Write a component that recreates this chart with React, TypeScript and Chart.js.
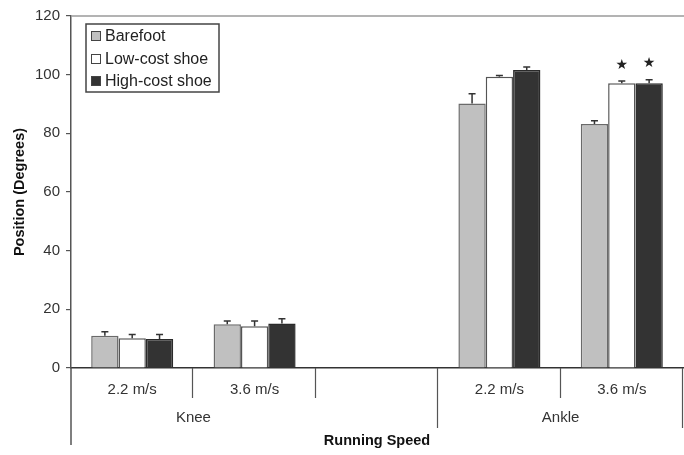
import React, { useEffect, useRef } from "react";
import { Chart, registerables } from "chart.js";

Chart.register(...registerables);

const categories = ["2.2 m/s", "3.6 m/s", "", "2.2 m/s", "3.6 m/s"];
const groups = ["Knee", "Ankle"];
const seriesNames = ["Barefoot", "Low-cost shoe", "High-cost shoe"];
const barefoot = [11.0, 14.9, null, 90.2, 83.2];
const lowCost = [10.1, 14.2, null, 99.3, 97.1];
const highCost = [9.9, 15.2, null, 101.6, 97.1];
const barefootErr = [1.4, 1.1, null, 3.3, 1.1];
const lowCostErr = [1.3, 1.8, null, 0.4, 0.7];
const highCostErr = [1.5, 1.6, null, 1.0, 1.2];
const lowCostStar = [false, false, false, false, true];
const highCostStar = [false, false, false, false, true];
const yTicks = [0, 20, 40, 60, 80, 100, 120];

const FONT = "'Liberation Sans', Arial, sans-serif";

const fills = ["#c0c0c0", "#ffffff", "#333333"];
const borders = ["#6a6a6a", "#555555", "#2a2a2a"];

const extrasPlugin = {
  id: "extras",
  afterDatasetsDraw(chart: any) {
    const ctx = chart.ctx;
    const ys = chart.scales.y;
    const errs = [barefootErr, lowCostErr, highCostErr];
    const stars = [null, lowCostStar, highCostStar];
    ctx.save();
    chart.data.datasets.forEach((ds: any, di: number) => {
      const meta = chart.getDatasetMeta(di);
      meta.data.forEach((el: any, i: number) => {
        const v = ds.data[i];
        const e = errs[di][i];
        if (v == null || e == null) return;
        const yTop = ys.getPixelForValue(v + e);
        ctx.strokeStyle = "#333";
        ctx.lineWidth = 1.5;
        ctx.beginPath();
        ctx.moveTo(el.x, el.y);
        ctx.lineTo(el.x, yTop);
        ctx.moveTo(el.x - 3.5, yTop);
        ctx.lineTo(el.x + 3.5, yTop);
        ctx.stroke();
        const s = stars[di];
        if (s && s[i]) {
          ctx.fillStyle = "#222";
          ctx.font = "14px 'DejaVu Sans', sans-serif";
          ctx.textAlign = "center";
          ctx.textBaseline = "middle";
          ctx.fillText("\u2605", el.x, yTop - 16);
        }
      });
    });
    ctx.restore();
  },
  afterDraw(chart: any) {
    const ctx = chart.ctx;
    const area = chart.chartArea;
    const xs = chart.scales.x;
    const ys = chart.scales.y;
    ctx.save();
    ctx.strokeStyle = "#9a9a9a";
    ctx.lineWidth = 1.5;
    ctx.beginPath();
    ctx.moveTo(area.left, ys.getPixelForValue(120));
    ctx.lineTo(area.right + 2, ys.getPixelForValue(120));
    ctx.stroke();
    ctx.strokeStyle = "#555";
    ctx.lineWidth = 1.5;
    ctx.beginPath();
    ctx.moveTo(area.left, area.bottom);
    ctx.lineTo(area.left, 445);
    ctx.stroke();
    const n = categories.length;
    const slot = (area.right - area.left) / n;
    const longSep = [3, 5];
    for (let i = 1; i <= n; i++) {
      const x = Math.round(area.left + i * slot) - 0.5;
      ctx.strokeStyle = "#555";
      ctx.lineWidth = 1.2;
      ctx.beginPath();
      ctx.moveTo(x, area.bottom);
      ctx.lineTo(x, longSep.includes(i) ? 428 : 398);
      ctx.stroke();
    }
    ctx.fillStyle = "#333";
    ctx.font = "15px " + FONT;
    ctx.textAlign = "center";
    ctx.textBaseline = "middle";
    const kx = (xs.getPixelForValue(0) + xs.getPixelForValue(1)) / 2;
    const ax = (xs.getPixelForValue(3) + xs.getPixelForValue(4)) / 2;
    ctx.fillText(groups[0], kx, 418);
    ctx.fillText(groups[1], ax, 418);
    const lx = 86, ly = 24, lw = 133, lh = 68;
    ctx.fillStyle = "#fff";
    ctx.fillRect(lx, ly, lw, lh);
    ctx.strokeStyle = "#444";
    ctx.lineWidth = 1.5;
    ctx.strokeRect(lx, ly, lw, lh);
    const rows = [36, 59, 81];
    seriesNames.forEach((name, i) => {
      const cy = rows[i];
      ctx.fillStyle = fills[i];
      ctx.fillRect(91, cy - 5, 10, 10);
      ctx.strokeStyle = "#444";
      ctx.lineWidth = 1;
      ctx.strokeRect(91.5, cy - 4.5, 9, 9);
      ctx.fillStyle = "#222";
      ctx.font = "16px " + FONT;
      ctx.textAlign = "left";
      ctx.textBaseline = "middle";
      ctx.fillText(name, 105, cy + 1);
    });
    ctx.restore();
  },
};

export default function App() {
  const ref = useRef<HTMLCanvasElement>(null);
  useEffect(() => {
    if (!ref.current) return;
    const data = [barefoot, lowCost, highCost];
    const chart = new Chart(ref.current, {
      type: "bar",
      data: {
        labels: categories,
        datasets: seriesNames.map((name, i) => ({
          label: name,
          data: data[i] as any,
          backgroundColor: fills[i],
          borderColor: borders[i],
          borderWidth: 1.5,
          categoryPercentage: 0.67,
          barPercentage: 1.0,
        })),
      },
      options: {
        responsive: false,
        animation: false,
        devicePixelRatio: 1,
        layout: { padding: { top: 16, right: 1, left: 0, bottom: 0 } },
        plugins: { legend: { display: false }, tooltip: { enabled: false } },
        scales: {
          x: {
            afterFit: (s: any) => {
              s.height = 87;
            },
            grid: { display: false, drawTicks: false },
            border: { display: true, color: "#333", width: 1.5 },
            ticks: {
              color: "#333",
              font: { family: FONT, size: 15 },
              padding: 13,
              maxRotation: 0,
              autoSkip: false,
            },
            title: {
              display: true,
              text: "Running Speed",
              color: "#111",
              font: { family: FONT, size: 14.5, weight: "bold" },
              padding: { top: 0, bottom: 5 },
            },
          },
          y: {
            min: 0,
            max: 120,
            afterFit: (s: any) => {
              s.width = 71;
            },
            afterBuildTicks: (s: any) => {
              s.ticks = yTicks.map((v) => ({ value: v }));
            },
            grid: {
              display: true,
              drawOnChartArea: false,
              drawTicks: true,
              tickLength: 5,
              color: "#555",
              lineWidth: 1.2,
            },
            border: { display: true, color: "#555", width: 1.5 },
            ticks: {
              color: "#333",
              font: { family: FONT, size: 15 },
              padding: 6,
            },
            title: {
              display: true,
              text: "Position (Degrees)",
              color: "#111",
              font: { family: FONT, size: 14.5, weight: "bold" },
              padding: { top: 11, bottom: 0 },
            },
          },
        },
      },
      plugins: [extrasPlugin],
    });
    return () => chart.destroy();
  }, []);
  return (
    <div style={{ position: "fixed", left: 0, top: 0, width: 684, height: 455, background: "#fff" }}>
      <canvas ref={ref} width={684} height={455} style={{ display: "block" }} />
    </div>
  );
}
